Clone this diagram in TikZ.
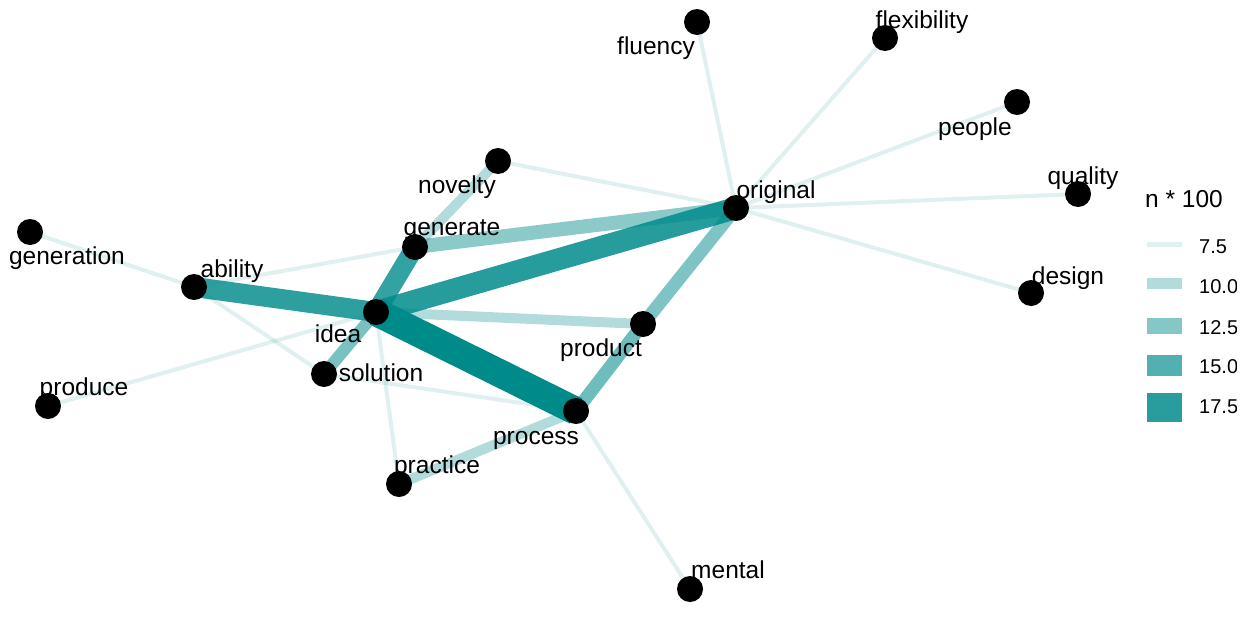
\documentclass[tikz,border=0pt]{standalone}
\usepackage{fontspec}
\setmainfont{Liberation Sans}
\definecolor{netteal}{RGB}{0,139,139}
\pgfdeclarelayer{edges}
\pgfsetlayers{edges,main}
\begin{document}
\begin{tikzpicture}[x=1pt,y=-1pt,
  dot/.style={circle,fill=black,inner sep=0pt,minimum size=26pt},
  lbl/.style={anchor=base,inner sep=0pt,font=\fontsize{24.5}{29}\selectfont},
  keylbl/.style={anchor=base west,inner sep=0pt,font=\fontsize{20}{24}\selectfont},
  link/.style={draw=netteal,line cap=butt},
  wa/.style={link,line width=4pt,draw opacity=0.12},
  wb/.style={link,line width=10pt,draw opacity=0.30},
  wc/.style={link,line width=13pt,draw opacity=#1},
  wd/.style={link,line width=20pt,draw opacity=#1},
  key/.style={fill=netteal,fill opacity=#1}
]
\useasboundingbox (0,0) rectangle (1250,616);

% word nodes
\node[dot] (fluency) at (697,22) {};
\node[dot] (flexibility) at (885,38) {};
\node[dot] (people) at (1017,102) {};
\node[dot] (quality) at (1078,194) {};
\node[dot] (design) at (1031,293) {};
\node[dot] (original) at (736,208) {};
\node[dot] (novelty) at (498,161) {};
\node[dot] (generate) at (415,247) {};
\node[dot] (ability) at (194,287) {};
\node[dot] (generation) at (30,232) {};
\node[dot] (idea) at (376,312) {};
\node[dot] (solution) at (324,374) {};
\node[dot] (produce) at (48,406) {};
\node[dot] (product) at (643,324) {};
\node[dot] (process) at (576,411) {};
\node[dot] (practice) at (399,484) {};
\node[dot] (mental) at (690,589) {};

% word labels
\node[lbl] (l-fluency) at (656,54) {fluency};
\node[lbl] (l-flexibility) at (922,28) {flexibility};
\node[lbl] (l-people) at (975,135) {people};
\node[lbl] (l-quality) at (1083,184) {quality};
\node[lbl] (l-design) at (1068,284) {design};
\node[lbl] (l-original) at (776,198) {original};
\node[lbl] (l-novelty) at (457,193) {novelty};
\node[lbl] (l-generate) at (452,235) {generate};
\node[lbl] (l-ability) at (232,277) {ability};
\node[lbl] (l-generation) at (67,264) {generation};
\node[lbl] (l-idea) at (338,342) {idea};
\node[lbl] (l-solution) at (381,381) {solution};
\node[lbl] (l-produce) at (84,395) {produce};
\node[lbl] (l-product) at (601,356) {product};
\node[lbl] (l-process) at (536,444) {process};
\node[lbl] (l-practice) at (437,473) {practice};
\node[lbl] (l-mental) at (728,578) {mental};

% white canvas and co-occurrence links, weakest first
\begin{pgfonlayer}{edges}
\fill[white] (0,0) rectangle (1250,616);
\draw[wa] (fluency.center) -- (original.center);
\draw[wa] (flexibility.center) -- (original.center);
\draw[wa] (people.center) -- (original.center);
\draw[wa] (quality.center) -- (original.center);
\draw[wa] (design.center) -- (original.center);
\draw[wa] (novelty.center) -- (original.center);
\draw[wa] (generation.center) -- (ability.center);
\draw[wa] (ability.center) -- (generate.center);
\draw[wa] (ability.center) -- (solution.center);
\draw[wa] (produce.center) -- (idea.center);
\draw[wa] (solution.center) -- (process.center);
\draw[wa] (idea.center) -- (practice.center);
\draw[wa] (process.center) -- (mental.center);
\draw[wb] (novelty.center) -- (generate.center);
\draw[wb] (idea.center) -- (product.center);
\draw[wb] (practice.center) -- (process.center);
\draw[wc=0.45,line width=14pt] (generate.center) -- (original.center);
\draw[wc=0.50] (product.center) -- (original.center);
\draw[wc=0.57] (product.center) -- (process.center);
\draw[wc=0.52,line width=12pt] (idea.center) -- (solution.center);
\draw[wd=0.80,line width=19pt] (idea.center) -- (generate.center);
\draw[wd=0.82] (ability.center) -- (idea.center);
\draw[wd=0.85,line width=22pt] (idea.center) -- (original.center);
\draw[wd=1,line width=28pt] (idea.center) -- (process.center);
\end{pgfonlayer}

% legend
\node[anchor=base west,inner sep=0pt,font=\fontsize{24.5}{29}\selectfont] (legtitle) at (1145,207) {n * 100};
\path[key=0.12] (1147,242) rectangle (1182,247);
\path[key=0.30] (1147,278) rectangle (1182,289);
\path[key=0.48] (1147,318) rectangle (1182,334);
\path[key=0.68] (1147,355) rectangle (1182,376);
\path[key=0.84] (1147,393) rectangle (1182,422);
\begin{scope}
\clip (1190,220) rectangle (1236,440);
\node[keylbl] (k1) at (1199,253) {7.5};
\node[keylbl] (k2) at (1199,293) {10.0};
\node[keylbl] (k3) at (1199,334) {12.5};
\node[keylbl] (k4) at (1199,373) {15.0};
\node[keylbl] (k5) at (1199,413) {17.5};
\end{scope}
\end{tikzpicture}
\end{document}
